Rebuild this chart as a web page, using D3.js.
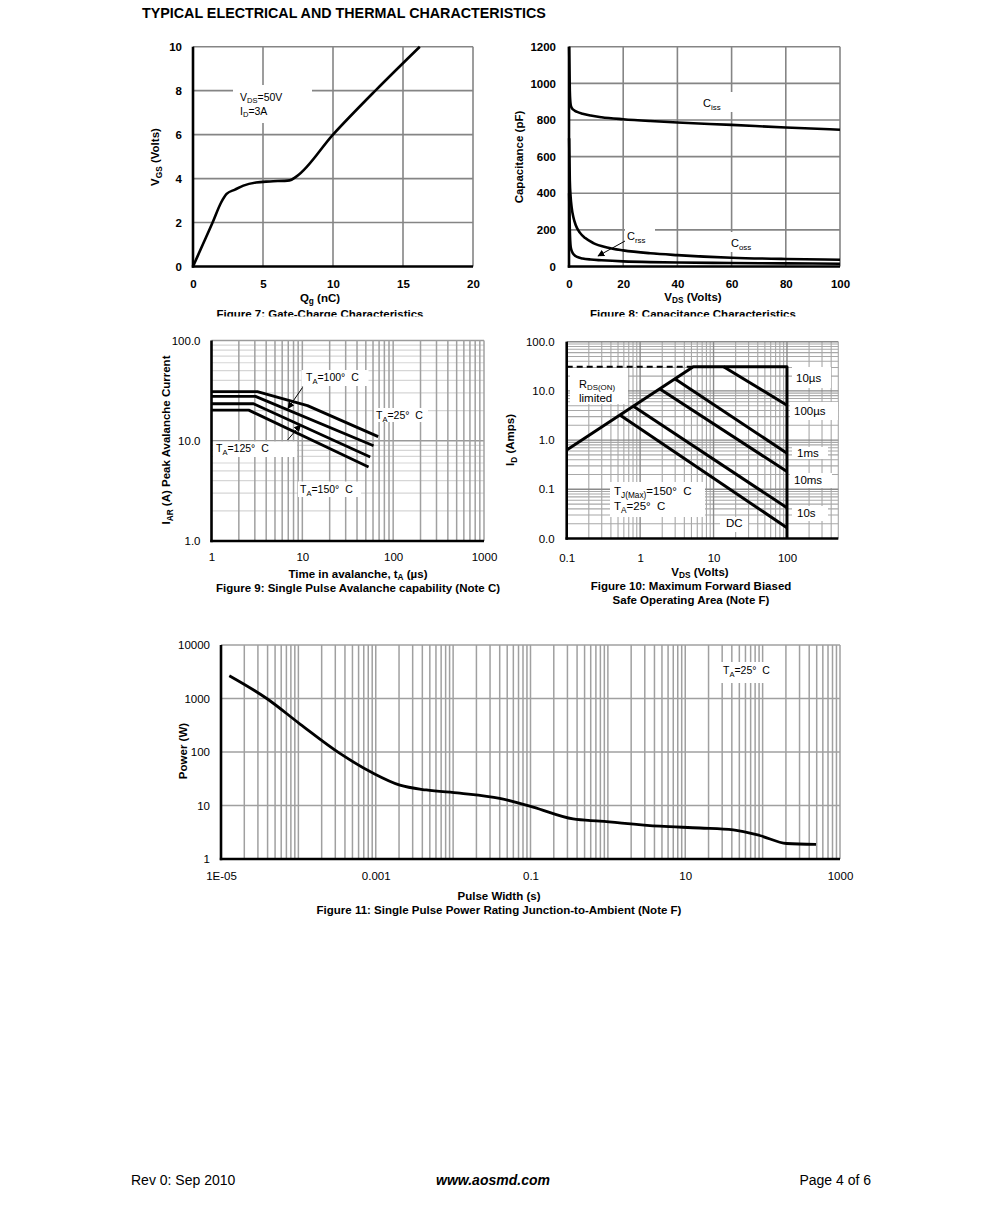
<!DOCTYPE html>
<html><head><meta charset="utf-8">
<script src="https://cdn.jsdelivr.net/npm/d3@7"></script>
<style>
body{margin:0;background:#fff;}
svg{display:block;}
</style></head><body>
<script>
// ---------------- DATA ----------------
// Figure 7: gate charge
const fig7Qg  = [0, 0.7, 1.4, 2.0, 2.4, 3.0, 3.6, 4.5, 5.5, 6.9, 7.4, 10.0, 13.1, 16.2];
const fig7Vgs = [0, 1.0, 2.0, 2.9, 3.3, 3.5, 3.68, 3.82, 3.87, 3.92, 4.1, 6.0, 8.05, 10.0];
const fig7XTicks = [0, 5, 10, 15, 20];
const fig7YTicks = [0, 2, 4, 6, 8, 10];

// Figure 8: capacitance
const cissV = [0.05, 0.3, 0.6, 1, 2, 3, 5, 8, 12, 20, 30, 40, 60, 80, 100];
const cissC = [1200, 960, 885, 866, 852, 844, 834, 824, 815, 804, 794, 786, 773, 759, 747];
const cossV = [0.05, 0.3, 0.6, 1, 1.6, 2.5, 4, 6, 9, 14, 20, 30, 40, 60, 80, 100];
const cossC = [700, 470, 380, 320, 270, 225, 185, 155, 128, 104, 88, 72, 62, 48, 41, 37];
const crssV = [0.05, 0.3, 0.6, 1, 2, 3, 5, 8, 12, 20, 30, 40, 60, 80, 100];
const crssC = [400, 200, 110, 85, 62, 52, 44, 38, 34, 28, 24, 22, 19, 17, 15];
const fig8XTicks = [0, 20, 40, 60, 80, 100];
const fig8YTicks = [0, 200, 400, 600, 800, 1000, 1200];

// Figure 9: avalanche
const av25t  = [1, 3.2, 11.4, 68.4];  const av25i  = [30.9, 30.9, 22.4, 11.0];
const av100t = [1, 3.05, 60.8];       const av100i = [27.7, 27.7, 8.9];
const av125t = [1, 2.9, 55.9];        const av125i = [23.4, 23.4, 6.87];
const av150t = [1, 2.57, 53.6];       const av150i = [20.2, 20.2, 5.46];
const fig9XTicks = [1, 10, 100, 1000];      const fig9XLabels = ["1", "10", "100", "1000"];
const fig9YTicks = [1, 10, 100];            const fig9YLabels = ["1.0", "10.0", "100.0"];

// Figure 10: SOA
const soaBoundV = [0.1, 5.3, 100, 100];     const soaBoundI = [0.63, 31, 31, 0.01];
const soaDashV  = [0.1, 5.3];               const soaDashI  = [31, 31];
const soa10usV  = [13.7, 100];  const soa10usI  = [31, 5.1];
const soa100usV = [3.0, 100];   const soa100usI = [17.5, 0.54];
const soa1msV   = [1.84, 100];  const soa1msI   = [11.0, 0.23];
const soa10msV  = [0.81, 100];  const soa10msI  = [4.9, 0.042];
const soa10sV   = [0.53, 100];  const soa10sI   = [3.25, 0.0165];
const fig10XTicks = [0.1, 1, 10, 100];          const fig10XLabels = ["0.1", "1", "10", "100"];
const fig10YTicks = [0.01, 0.1, 1, 10, 100];    const fig10YLabels = ["0.0", "0.1", "1.0", "10.0", "100.0"];

// Figure 11: single pulse power
const pwrT = [1.28e-5, 3.9e-5, 1.05e-4, 3.44e-4, 9.3e-4, 2.05e-3, 4.5e-3, 0.0122, 0.040, 0.108, 0.355, 0.79, 4.7, 15.5, 41.7, 91.6, 204, 490];
const pwrP = [2667, 1000, 333, 94, 40, 24, 19.5, 17, 13.6, 9.3, 5.6, 5.1, 4.1, 3.8, 3.5, 2.75, 1.95, 1.87];
const fig11XTicks = [1e-5, 1e-3, 0.1, 10, 1000];   const fig11XLabels = ["1E-05", "0.001", "0.1", "10", "1000"];
const fig11YTicks = [1, 10, 100, 1000, 10000];     const fig11YLabels = ["1", "10", "100", "1000", "10000"];

// ---------------- DRAWING ----------------
const FONT = '"Liberation Sans", Arial, Helvetica, sans-serif';
const TICK = 11.5, TITLE = 11.5;
const svg = d3.select('body').append('svg').attr('width', 991).attr('height', 1208)
  .style('font-family', FONT);
svg.append('rect').attr('width', 991).attr('height', 1208).attr('fill', '#fff');

const defs = svg.append('defs');
defs.append('marker').attr('id', 'arr').attr('viewBox', '0 0 10 10').attr('refX', 9).attr('refY', 5)
  .attr('markerWidth', 7).attr('markerHeight', 7).attr('markerUnits', 'userSpaceOnUse').attr('orient', 'auto')
  .append('path').attr('d', 'M0,0L10,5L0,10z').attr('fill', '#000');
defs.append('clipPath').attr('id', 'capclip').append('rect').attr('x', 0).attr('y', 0).attr('width', 991).attr('height', 316.5);

function rich(parent, x, y, parts, o = {}) {
  const fs = o.size || 10;
  const sd = o.subDy == null ? 0.3 : o.subDy;
  const t = parent.append('text').attr('x', x).attr('y', y)
    .attr('font-size', fs).attr('font-weight', o.bold ? 'bold' : 'normal')
    .attr('font-style', o.italic ? 'italic' : 'normal')
    .attr('text-anchor', o.anchor || 'start').attr('fill', '#000');
  if (o.rotate) t.attr('transform', `rotate(-90,${x},${y})`);
  let sub = false;
  parts.forEach(p => {
    const isSub = typeof p === 'object';
    const ts = t.append('tspan').text(isSub ? p.s : p);
    if (isSub) { ts.attr('font-size', fs * 0.72); if (!sub) ts.attr('dy', fs * sd); }
    else if (sub) ts.attr('dy', -fs * sd);
    sub = isSub;
  });
  return t;
}
function box(parent, x0, y0, x1, y1) {
  parent.append('rect').attr('x', x0).attr('y', y0).attr('width', x1 - x0).attr('height', y1 - y0).attr('fill', '#fff');
}
function gridLines(g, sx, sy, axis, vals, color, width) {
  const [x0, x1] = sx.range(), [y0, y1] = sy.range();
  g.append('g').selectAll('line').data(vals).join('line')
    .attr('x1', d => axis === 'x' ? sx(d) : x0).attr('x2', d => axis === 'x' ? sx(d) : x1)
    .attr('y1', d => axis === 'x' ? y0 : sy(d)).attr('y2', d => axis === 'x' ? y1 : sy(d))
    .attr('stroke', color).attr('stroke-width', width);
}
function axesFrame(g, sx, sy) {
  const [x0, x1] = sx.range(), [y0, y1] = sy.range();
  g.append('line').attr('x1', x0).attr('x2', x0).attr('y1', y1).attr('y2', y0 + 1.2).attr('stroke', '#000').attr('stroke-width', 2.6);
  g.append('line').attr('x1', x0 - 1.2).attr('x2', x1).attr('y1', y0).attr('y2', y0).attr('stroke', '#000').attr('stroke-width', 2.6);
}
function tickLabels(g, sx, sy, xv, xl, yv, yl, o) {
  const [x0] = sx.range(), [y0] = sy.range();
  const ax = g.append('g').attr('transform', `translate(0,${y0})`)
    .call(d3.axisBottom(sx).tickValues(xv).tickFormat((d, i) => xl[i]).tickSize(0).tickPadding(o.xPad));
  const ay = g.append('g').attr('transform', `translate(${x0},0)`)
    .call(d3.axisLeft(sy).tickValues(yv).tickFormat((d, i) => yl[i]).tickSize(0).tickPadding(o.yPad));
  [ax, ay].forEach(a => {
    a.select('.domain').remove();
    a.attr('font-family', FONT).attr('font-size', o.size || TICK);
    a.selectAll('text').attr('fill', '#000').attr('font-weight', o.bold ? 'bold' : 'normal');
  });
}
function curve(g, sx, sy, xs, ys, o = {}) {
  const pts = xs.map((v, i) => [sx(v), sy(ys[i])]);
  const ln = d3.line().curve(o.smooth ? d3.curveMonotoneX : d3.curveLinear);
  const p = g.append('path').attr('d', ln(pts)).attr('fill', 'none').attr('stroke', '#000')
    .attr('stroke-width', o.width || 2.6).attr('stroke-linejoin', 'round').attr('stroke-linecap', 'butt');
  if (o.dash) p.attr('stroke-dasharray', o.dash);
  return p;
}
function arrow(g, x1, y1, x2, y2) {
  g.append('line').attr('x1', x1).attr('y1', y1).attr('x2', x2).attr('y2', y2)
    .attr('stroke', '#000').attr('stroke-width', 1).attr('marker-end', 'url(#arr)');
}
function caption(g, x, y, txt, clip) {
  const t = g.append('text').attr('x', x).attr('y', y).attr('text-anchor', 'middle').attr('font-size', TITLE)
    .attr('font-weight', 'bold').text(txt);
  if (clip) t.attr('clip-path', 'url(#capclip)');
  return t;
}
const DEG = '°\u00a0 C';

// Page title
svg.append('text').attr('x', 142).attr('y', 18).attr('font-size', 14.3).attr('font-weight', 'bold')
  .text('TYPICAL ELECTRICAL AND THERMAL CHARACTERISTICS');

// ---------- Figure 7 ----------
{
  const g = svg.append('g');
  const sx = d3.scaleLinear([0, 20], [193, 473]);
  const sy = d3.scaleLinear([0, 10], [266.5, 46.7]);
  gridLines(g, sx, sy, 'x', [5, 10, 15, 20], '#858585', 1.6);
  gridLines(g, sx, sy, 'y', [2, 4, 6, 8, 10], '#858585', 1.6);
  box(g, 233, 85, 312, 123);
  rich(g, 240, 100.5, ['V', { s: 'DS' }, '=50V'], { size: 10.5, subDy: 0.2 });
  rich(g, 240, 114.5, ['I', { s: 'D' }, '=3A'], { size: 10.5, subDy: 0.2 });
  curve(g, sx, sy, fig7Qg, fig7Vgs, { smooth: true, width: 2.6 });
  axesFrame(g, sx, sy);
  tickLabels(g, sx, sy, fig7XTicks, fig7XTicks.map(String), fig7YTicks, fig7YTicks.map(String),
    { xPad: 13, yPad: 11, bold: true });
  rich(g, 320, 301.5, ['Q', { s: 'g' }, ' (nC)'], { bold: true, anchor: 'middle', size: TITLE, subDy: 0.2 });
  rich(g, 159, 157, ['V', { s: 'GS' }, ' (Volts)'], { bold: true, anchor: 'middle', rotate: true, size: TITLE });
  caption(g, 320, 317.5, 'Figure 7: Gate-Charge Characteristics', true);
}

// ---------- Figure 8 ----------
{
  const g = svg.append('g');
  const sx = d3.scaleLinear([0, 100], [569, 840]);
  const sy = d3.scaleLinear([0, 1200], [266.5, 46.7]);
  gridLines(g, sx, sy, 'x', [20, 40, 60, 80, 100], '#858585', 1.6);
  gridLines(g, sx, sy, 'y', [200, 400, 600, 800, 1000, 1200], '#858585', 1.6);
  box(g, 700, 92, 733, 112);
  box(g, 625, 228, 655, 247);
  box(g, 729, 232, 758, 252);
  curve(g, sx, sy, cissV, cissC, { smooth: true, width: 2.6 });
  curve(g, sx, sy, cossV, cossC, { smooth: true, width: 2.6 });
  curve(g, sx, sy, crssV, crssC, { smooth: true, width: 2.6 });
  rich(g, 703, 107, ['C', { s: 'iss' }], { size: 11 });
  rich(g, 627, 240, ['C', { s: 'rss' }], { size: 11 });
  rich(g, 731, 247, ['C', { s: 'oss' }], { size: 11 });
  arrow(g, 625, 241, 598, 256);
  axesFrame(g, sx, sy);
  tickLabels(g, sx, sy, fig8XTicks, fig8XTicks.map(String), fig8YTicks, fig8YTicks.map(String),
    { xPad: 13, yPad: 13, bold: true });
  rich(g, 693, 301, ['V', { s: 'DS' }, ' (Volts)'], { bold: true, anchor: 'middle', size: TITLE, subDy: 0.2 });
  rich(g, 523, 157, ['Capacitance (pF)'], { bold: true, anchor: 'middle', rotate: true, size: TITLE });
  caption(g, 693, 317.5, 'Figure 8: Capacitance Characteristics', true);
}

// ---------- Figure 9 ----------
{
  const g = svg.append('g');
  const sx = d3.scaleLog([1, 1000], [211.5, 484]);
  const sy = d3.scaleLog([1, 100], [541, 340.5]);
  const yt = sy.ticks();
  gridLines(g, sx, sy, 'y', yt.filter(d => ![1, 10, 100].includes(d)), '#d6d6d6', 1.2);
  gridLines(g, sx, sy, 'y', [10, 100], '#9a9a9a', 1.3);
  gridLines(g, sx, sy, 'x', sx.ticks().filter(d => d > 1), '#a0a0a0', 1.5);
  box(g, 301.5, 370, 368.5, 386);
  box(g, 374, 408, 428, 422);
  box(g, 213, 441.5, 297, 457);
  box(g, 298, 481.5, 361, 497);
  curve(g, sx, sy, av25t, av25i, { width: 2.8 });
  curve(g, sx, sy, av100t, av100i, { width: 2.8 });
  curve(g, sx, sy, av125t, av125i, { width: 2.8 });
  curve(g, sx, sy, av150t, av150i, { width: 2.8 });
  rich(g, 306, 381, ['T', { s: 'A' }, '=100' + DEG], { size: 10.5 });
  rich(g, 376, 419, ['T', { s: 'A' }, '=25' + DEG], { size: 10.5 });
  rich(g, 216, 452, ['T', { s: 'A' }, '=125' + DEG], { size: 10.5 });
  rich(g, 300, 493, ['T', { s: 'A' }, '=150' + DEG], { size: 10.5 });
  arrow(g, 302.5, 387.5, 288, 408.5);
  arrow(g, 287.5, 440, 300.5, 425);
  axesFrame(g, sx, sy);
  tickLabels(g, sx, sy, fig9XTicks, fig9XLabels, fig9YTicks, fig9YLabels, { xPad: 12, yPad: 11 });
  rich(g, 358, 578, ['Time in avalanche, t', { s: 'A' }, ' (µs)'], { bold: true, anchor: 'middle', size: TITLE, subDy: 0.2 });
  caption(g, 358, 592, 'Figure 9: Single Pulse Avalanche capability (Note C)');
  rich(g, 170, 440, ['I', { s: 'AR' }, ' (A) Peak Avalanche Current'], { bold: true, anchor: 'middle', rotate: true, size: TITLE });
}

// ---------- Figure 10 ----------
{
  const g = svg.append('g');
  const sx = d3.scaleLog([0.1, 500], [566.7, 838.3]);
  const sy = d3.scaleLog([0.01, 100], [538.5, 341.7]);
  const isDec = d => Math.abs(Math.log10(d) - Math.round(Math.log10(d))) < 1e-9;
  gridLines(g, sx, sy, 'y', sy.ticks().filter(d => !isDec(d)), '#a8a8a8', 1.1);
  gridLines(g, sx, sy, 'x', sx.ticks().filter(d => !isDec(d)), '#a8a8a8', 1.1);
  gridLines(g, sx, sy, 'y', [0.1, 1, 10, 100], '#8a8a8a', 1.4);
  gridLines(g, sx, sy, 'x', [1, 10, 100], '#8a8a8a', 1.4);
  box(g, 570, 368, 628, 404);
  box(g, 792, 367, 831, 388);
  box(g, 790, 402, 838, 420);
  box(g, 792, 447, 828, 459);
  box(g, 790, 473, 832, 488);
  box(g, 792, 506, 828, 521);
  box(g, 720, 517, 748, 532);
  box(g, 610, 482, 705, 517);
  curve(g, sx, sy, soaDashV, soaDashI, { width: 2, dash: '6,4' });
  curve(g, sx, sy, soaBoundV, soaBoundI, { width: 3 });
  curve(g, sx, sy, soa10usV, soa10usI, { width: 3 });
  curve(g, sx, sy, soa100usV, soa100usI, { width: 3 });
  curve(g, sx, sy, soa1msV, soa1msI, { width: 3 });
  curve(g, sx, sy, soa10msV, soa10msI, { width: 3 });
  curve(g, sx, sy, soa10sV, soa10sI, { width: 3 });
  rich(g, 579, 387.5, ['R', { s: 'DS(ON)' }], { size: 11, subDy: 0.2 });
  rich(g, 579, 402, ['limited'], { size: 11.5 });
  rich(g, 796, 382, ['10µs'], { size: 11.5 });
  rich(g, 794, 415, ['100µs'], { size: 11.5 });
  rich(g, 797, 457, ['1ms'], { size: 11.5 });
  rich(g, 794, 484, ['10ms'], { size: 11.5 });
  rich(g, 797, 517, ['10s'], { size: 11.5 });
  rich(g, 726, 527, ['DC'], { size: 11.5 });
  rich(g, 614, 495, ['T', { s: 'J(Max)' }, '=150' + DEG], { size: 11.5 });
  rich(g, 614, 510, ['T', { s: 'A' }, '=25' + DEG], { size: 11.5 });
  axesFrame(g, sx, sy);
  tickLabels(g, sx, sy, fig10XTicks, fig10XLabels, fig10YTicks, fig10YLabels, { xPad: 15, yPad: 12 });
  rich(g, 700, 576, ['V', { s: 'DS' }, ' (Volts)'], { bold: true, anchor: 'middle', size: TITLE, subDy: 0.2 });
  caption(g, 691, 590, 'Figure 10: Maximum Forward Biased');
  caption(g, 691, 604, 'Safe Operating Area (Note F)');
  rich(g, 514, 440, ['I', { s: 'D' }, ' (Amps)'], { bold: true, anchor: 'middle', rotate: true, size: TITLE });
}

// ---------- Figure 11 ----------
{
  const g = svg.append('g');
  const sx = d3.scaleLog([1e-5, 1000], [221, 840]);
  const sy = d3.scaleLog([1, 10000], [859, 645]);
  gridLines(g, sx, sy, 'x', sx.ticks().filter(d => d > 1.0001e-5), '#a0a0a0', 1.5);
  gridLines(g, sx, sy, 'y', [10, 100, 1000, 10000], '#a0a0a0', 1.5);
  box(g, 720, 662, 784, 683);
  curve(g, sx, sy, pwrT, pwrP, { smooth: true, width: 2.8 });
  rich(g, 723, 674, ['T', { s: 'A' }, '=25' + DEG], { size: 10.5 });
  axesFrame(g, sx, sy);
  tickLabels(g, sx, sy, fig11XTicks, fig11XLabels, fig11YTicks, fig11YLabels, { xPad: 13, yPad: 11 });
  caption(g, 499, 900, 'Pulse Width (s)');
  caption(g, 499, 913.5, 'Figure 11: Single Pulse Power Rating Junction-to-Ambient (Note F)');
  rich(g, 187, 751, ['Power (W)'], { bold: true, anchor: 'middle', rotate: true, size: TITLE });
}

// Footer
svg.append('text').attr('x', 131).attr('y', 1185).attr('font-size', 14).text('Rev 0: Sep 2010');
svg.append('text').attr('x', 493).attr('y', 1185).attr('font-size', 14).attr('text-anchor', 'middle')
  .attr('font-weight', 'bold').attr('font-style', 'italic').text('www.aosmd.com');
svg.append('text').attr('x', 871).attr('y', 1185).attr('font-size', 14).attr('text-anchor', 'end').text('Page 4 of 6');
</script>
</body></html>
